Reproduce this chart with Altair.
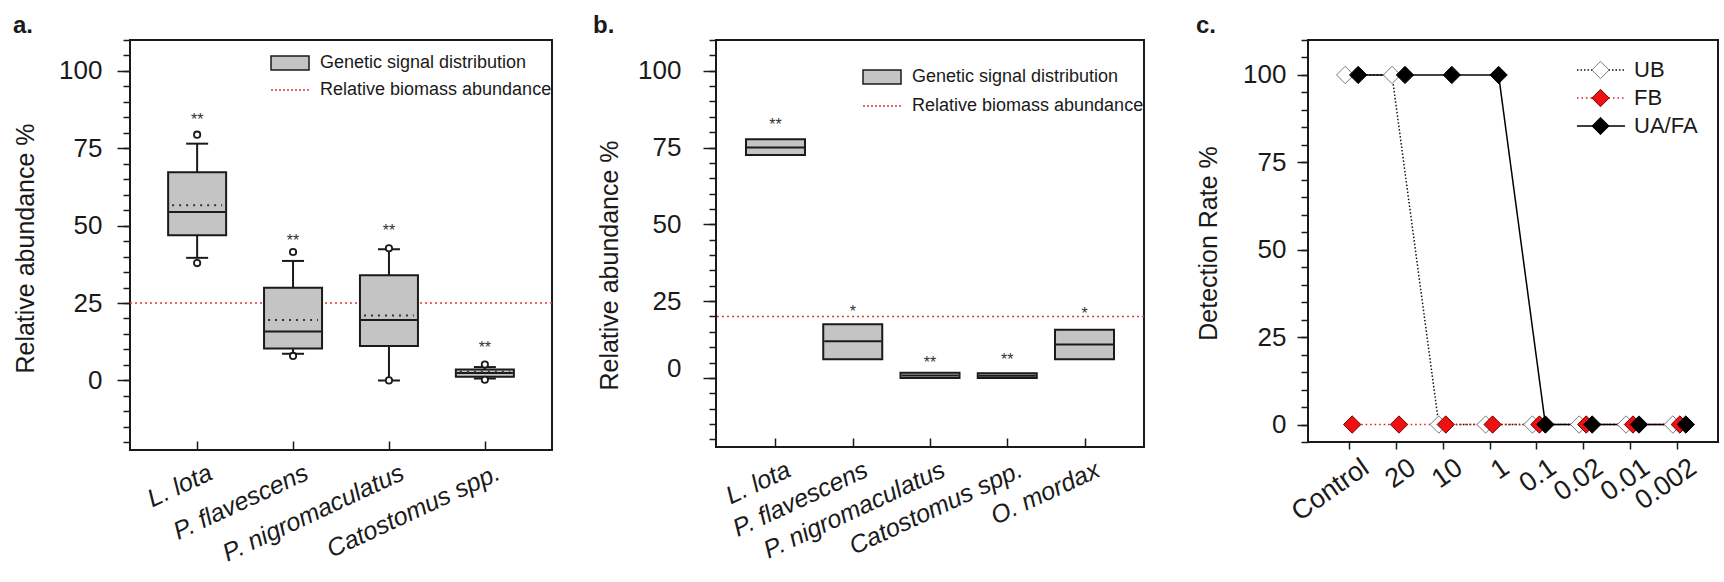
import altair as alt
import pandas as pd

FONT = "Liberation Sans"
INK = "#1a1a1a"
BOX_FILL = "#c4c4c4"
BIOMASS_RED = "#e23a3a"

# ---------------- Panel a : genetic signal vs biomass ----------------
a_species = ["L. lota", "P. flavescens", "P. nigromaculatus", "Catostomus spp."]
a_q1 = [46.9, 10.3, 11.1, 1.2]
a_median = [54.4, 15.8, 19.5, 2.4]
a_mean = [56.6, 19.5, 21.0, 2.8]
a_q3 = [67.3, 29.9, 34.0, 3.5]
a_whisker_low = [39.6, 8.6, 0.0, 0.6]
a_whisker_high = [76.5, 38.6, 42.4, 4.3]
a_outlier_species = ["L. lota", "L. lota", "P. flavescens", "P. flavescens",
                     "P. nigromaculatus", "P. nigromaculatus",
                     "Catostomus spp.", "Catostomus spp."]
a_outlier_values = [79.4, 37.9, 41.5, 7.9, 42.7, 0.0, 5.1, 0.2]
a_star_text = ["**", "**", "**", "**"]
a_star_y = [85.4, 46.3, 49.6, 11.6]
a_biomass = 25.0

# ---------------- Panel b ----------------
b_species = ["L. lota", "P. flavescens", "P. nigromaculatus", "Catostomus spp.", "O. mordax"]
b_q1 = [72.6, 6.1, 0.0, 0.0, 6.1]
b_median = [75.0, 11.9, 0.8, 0.7, 10.9]
b_q3 = [77.7, 17.5, 1.7, 1.5, 15.7]
b_star_text = ["**", "*", "**", "**", "*"]
b_star_y = [83.7, 22.6, 6.1, 7.0, 22.0]
b_biomass = 20.0

# ---------------- Panel c : detection rate ----------------
c_concentration = ["Control", "20", "10", "1", "0.1", "0.02", "0.01", "0.002"]
c_series = ["UB", "FB", "UA/FA"]
c_ub = [100, 100, 0, 0, 0, 0, 0, 0]
c_fb = [0, 0, 0, 0, 0, 0, 0, 0]
c_uafa = [100, 100, 100, 100, 0, 0, 0, 0]

# axis tick values
y_major_values = [0, 25, 50, 75, 100]
y_major_values_b = [25, 50, 75, 100]
y_zero_value = [0]

LEGEND_BOX_LABEL = "Genetic signal distribution"
LEGEND_BIO_LABEL = "Relative biomass abundance"
LEGEND_BOX = "M-1,-0.37H1V0.37H-1Z"
LEGEND_DIAMOND = "M-0.36,0L0,-0.36L0.36,0L0,0.36Z"


def major_axis(title, values, label_pad, title_x, title_y, tick, label_size, title_size,
               label_offset=0):
    return alt.Axis(
        orient="left", title=title, values=values, tickSize=tick, labelPadding=label_pad,
        labelFontSize=label_size, titleFontSize=title_size, titleX=title_x, titleY=title_y,
        titleAngle=270, titleAlign="center", titleBaseline="middle", labelOffset=label_offset,
        titleLimit=0,
    )


def minor_axis(lo):
    return alt.Axis(orient="left", title=None, values=list(range(lo, 111, 5)), tickSize=7,
                    labels=False)


def box_panel(species, q1, median, q3, star_text, star_y, biomass, *, mean=None,
              wlo=None, whi=None, out_species=None, out_values=None,
              width, height, pad, box_w, ylo, title, title_dx, yaxis_major, yaxis_zero=None,
              legend_x, legend_y1, legend_y2, label_offset):
    df = pd.DataFrame({"species": species, "q1": q1, "median": median, "q3": q3,
                       "star": star_text, "star_y": star_y})
    df["lg_box"] = LEGEND_BOX_LABEL
    xs = alt.Scale(type="point", domain=species, padding=pad)
    ys = alt.Scale(domain=[ylo, 110], nice=False, zero=False)
    x_label_axis = alt.Axis(orient="bottom", title=None, labelAngle=-25, labelAlign="right",
                            labelBaseline="top", labelFontSize=25, labelFontStyle="italic",
                            ticks=False, labelPadding=10, labelOffset=label_offset,
                            labelLimit=0)
    x_tick_axis = alt.Axis(orient="top", title=None, labels=False, tickSize=9,
                           offset=-height)

    def X(axis=None):
        return alt.X("species:N", scale=xs, axis=axis)

    legend_common = dict(orient="none", legendX=legend_x, title=None, labelFont=FONT,
                         labelFontSize=18, labelColor=INK, labelOffset=10, clipHeight=20,
                         padding=0, rowPadding=0, labelLimit=0)

    layers = []
    bio_df = pd.DataFrame({"biomass": [biomass], "lg_bio": [LEGEND_BIO_LABEL]})
    layers.append(alt.Chart(bio_df).mark_rule(strokeDash=[2, 3], strokeWidth=1.6).encode(
        y=alt.Y("biomass:Q", scale=ys, axis=yaxis_major),
        color=alt.Color(
            "lg_bio:N",
            scale=alt.Scale(domain=[LEGEND_BIO_LABEL], range=[BIOMASS_RED]),
            legend=alt.Legend(legendY=legend_y2, symbolType="stroke", symbolSize=1444,
                              symbolStrokeWidth=1.5, symbolDash=[2, 2], **legend_common),
        ),
    ))

    base = alt.Chart(df)
    if wlo is not None:
        df["wlo"] = wlo
        df["whi"] = whi
        base = alt.Chart(df)
        layers.append(base.mark_rule(color=INK, strokeWidth=2).encode(
            x=X(), y=alt.Y("q3:Q", scale=ys, axis=None), y2="whi:Q"))
        layers.append(base.mark_rule(color=INK, strokeWidth=2).encode(
            x=X(), y=alt.Y("wlo:Q", scale=ys, axis=None), y2="q1:Q"))
        layers.append(base.mark_tick(color=INK, size=22, thickness=2, opacity=1).encode(
            x=X(), y=alt.Y("whi:Q", scale=ys, axis=None)))
        layers.append(base.mark_tick(color=INK, size=22, thickness=2, opacity=1).encode(
            x=X(), y=alt.Y("wlo:Q", scale=ys, axis=None)))

    layers.append(base.mark_bar(width=box_w, stroke=INK, strokeWidth=2, opacity=1).encode(
        x=X(x_label_axis),
        y=alt.Y("q1:Q", scale=ys, axis=minor_axis(-20)),
        y2="q3:Q",
        fill=alt.Fill(
            "lg_box:N",
            scale=alt.Scale(domain=[LEGEND_BOX_LABEL], range=[BOX_FILL]),
            legend=alt.Legend(legendY=legend_y1, symbolType=LEGEND_BOX, symbolSize=1444,
                              symbolStrokeColor=INK, symbolStrokeWidth=1.5, **legend_common),
        ),
    ))
    layers.append(base.mark_tick(color=INK, size=box_w - 2, thickness=2, opacity=1).encode(
        x=X(x_tick_axis), y=alt.Y("median:Q", scale=ys, axis=None)))

    if mean is not None:
        df["mean"] = mean
        half = box_w / 2 - 4
        layers.append(alt.Chart(df).mark_rule(color="#333333", strokeWidth=2, strokeDash=[2, 5],
                                              xOffset=-half, x2Offset=half).encode(
            x=X(), x2="species:N", y=alt.Y("mean:Q", scale=ys, axis=None)))

    if out_values is not None:
        odf = pd.DataFrame({"species": out_species, "value": out_values})
        layers.append(alt.Chart(odf).mark_point(shape="circle", size=40, filled=True,
                                                fill="white", stroke=INK, strokeWidth=1.8,
                                                opacity=1).encode(
            x=X(), y=alt.Y("value:Q", scale=ys, axis=None)))

    layers.append(base.mark_text(font=FONT, fontSize=16, color="#333333", baseline="middle",
                                 dy=4).encode(
        x=X(), y=alt.Y("star_y:Q", scale=ys, axis=yaxis_zero), text="star:N"))

    return alt.layer(*layers).resolve_axis(x="independent", y="independent").properties(
        width=width, height=height,
        title=alt.TitleParams(title, anchor="start", font=FONT, fontSize=24, fontWeight="bold",
                              color=INK, offset=1, dx=title_dx),
    )


panel_a = box_panel(
    a_species, a_q1, a_median, a_q3, a_star_text, a_star_y, a_biomass,
    mean=a_mean, wlo=a_whisker_low, whi=a_whisker_high,
    out_species=a_outlier_species, out_values=a_outlier_values,
    width=422, height=410, pad=0.7, box_w=58, ylo=-22.5, title="a.", title_dx=0,
    yaxis_major=major_axis("Relative abundance %", y_major_values, 15, -105, 208, 13, 26, 25),
    legend_x=140, legend_y1=13, legend_y2=40, label_offset=8,
)

panel_b = box_panel(
    b_species, b_q1, b_median, b_q3, b_star_text, b_star_y, b_biomass,
    width=428, height=407, pad=0.77, box_w=59, ylo=-22.5, title="b.", title_dx=-4,
    yaxis_major=major_axis("Relative abundance %", y_major_values_b, 22, -107, 225, 13, 26, 25),
    yaxis_zero=alt.Axis(orient="left", title=None, values=y_zero_value, tickSize=13,
                        labelPadding=22, labelFontSize=26, labelOffset=-9),
    legend_x=146, legend_y1=27, legend_y2=56, label_offset=8,
)

# ---- panel c
c_values = {"UB": c_ub, "FB": c_fb, "UA/FA": c_uafa}
c_rows = []
for s in c_series:
    for conc, v in zip(c_concentration, c_values[s]):
        c_rows.append({"series": s, "conc": conc, "value": v})
c_df = pd.DataFrame(c_rows)

c_xs = alt.Scale(type="point", domain=c_concentration, padding=0.88)
c_ys = alt.Scale(domain=[-5, 110], nice=False, zero=False)
c_xaxis = alt.Axis(orient="bottom", title=None, labelAngle=-35, labelAlign="right",
                   labelBaseline="top", labelFontSize=27, tickSize=7, labelPadding=5,
                   labelOffset=9, labelLimit=0)
c_yaxis_major = major_axis("Detection Rate %", y_major_values, 11, -100, 203, 11, 26, 25)

c_legend_common = dict(orient="none", legendX=268, legendY=17, title=None, symbolSize=2304,
                       labelFont=FONT, labelFontSize=22, labelColor=INK, labelOffset=8,
                       clipHeight=26, rowPadding=2, padding=0, labelLimit=0)
line_legend = alt.Legend(symbolType="stroke", symbolStrokeWidth=1.5, **c_legend_common)
point_legend = alt.Legend(values=c_series, symbolType=LEGEND_DIAMOND, symbolStrokeWidth=1,
                          labelExpr="''", **c_legend_common)

offsets = {"UB": -4, "FB": 3, "UA/FA": 9}
line_colors = ["#111111", "#e01818", "#000000"]
line_dashes = [[1.5, 2], [1.5, 3], [1, 0]]
# points use a separate scale (an unused trailing entry keeps its legend apart from the lines)
point_domain = c_series + ["-"]
fill_colors = ["#ffffff", "#ee1111", "#000000", "#ffffff"]
stroke_colors = ["#7a7a7a", "#7a0000", "#000000", "#ffffff"]

c_layers = []
for i, s in enumerate(c_series):
    c_layers.append(alt.Chart(c_df).transform_filter(alt.datum.series == s).mark_line(
        strokeWidth=1.5, xOffset=offsets[s]).encode(
        x=alt.X("conc:N", scale=c_xs, axis=c_xaxis if i == 0 else None),
        y=alt.Y("value:Q", scale=c_ys,
                axis=c_yaxis_major if i == 0 else (minor_axis(-5) if i == 1 else None)),
        color=alt.Color("series:N", scale=alt.Scale(domain=c_series, range=line_colors),
                        legend=line_legend),
        strokeDash=alt.StrokeDash("series:N", scale=alt.Scale(domain=c_series, range=line_dashes),
                                  legend=line_legend),
    ))
for s in c_series:
    c_layers.append(alt.Chart(c_df).transform_filter(alt.datum.series == s).mark_point(
        shape="diamond", size=300, filled=True, opacity=1, strokeWidth=1,
        xOffset=offsets[s]).encode(
        x=alt.X("conc:N", scale=c_xs, axis=None),
        y=alt.Y("value:Q", scale=c_ys, axis=None),
        fill=alt.Fill("series:N", scale=alt.Scale(domain=point_domain, range=fill_colors),
                      legend=point_legend),
        stroke=alt.Stroke("series:N", scale=alt.Scale(domain=point_domain, range=stroke_colors),
                          legend=point_legend),
    ))

panel_c = alt.layer(*c_layers).resolve_axis(x="independent", y="independent").properties(
    width=410, height=402,
    title=alt.TitleParams("c.", anchor="start", font=FONT, fontSize=24, fontWeight="bold",
                          color=INK, offset=1),
)

chart = alt.hconcat(panel_a, panel_b, panel_c, spacing=164, bounds="flush").resolve_scale(
    color="independent", fill="independent", stroke="independent", strokeDash="independent",
).resolve_legend(
    color="independent", fill="independent", stroke="independent", strokeDash="independent",
).properties(
    padding={"left": 12, "top": 13, "right": 0, "bottom": 0},
    background="white",
).configure_axis(
    labelFont=FONT, titleFont=FONT, labelColor=INK, titleColor=INK,
    titleFontWeight="normal", tickColor=INK, tickWidth=1.5, grid=False, domain=False,
).configure_view(
    stroke=INK, strokeWidth=2,
)

chart.save("out.html", embed_options={"renderer": "svg", "actions": False})
